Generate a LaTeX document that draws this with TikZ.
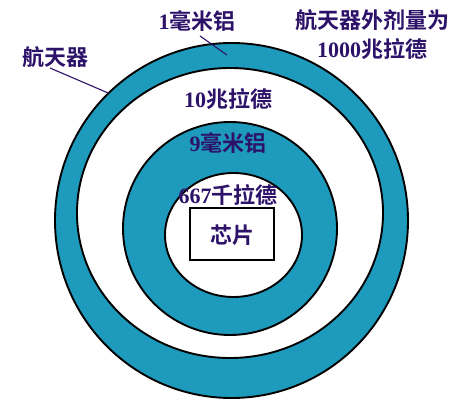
\documentclass[tikz,border=0pt]{standalone}
\usepackage{fontspec}
\newfontfamily\cjk{Noto Sans CJK SC}[BoldFont={* Bold}]
\newfontfamily\lat{Liberation Serif}
\usetikzlibrary{shapes.geometric}
\definecolor{ringteal}{RGB}{30,155,188}
\definecolor{txt}{RGB}{45,18,105}
\begin{document}
\begin{tikzpicture}[x=1pt,y=-1pt,
  ringshape/.style={ellipse,draw=black,line width=1.9pt,inner sep=0pt,outer sep=0pt},
  lbl/.style={inner sep=0pt,text=txt,font=\fontsize{22}{29}\selectfont\cjk\bfseries,align=center},
  leader/.style={draw=txt,line width=1.1pt}]
\useasboundingbox[fill=white] (0,0) rectangle (463,404);
% rings
\node[ringshape,fill=ringteal,minimum width=353pt,minimum height=355pt] (outer) at (231.5,220.5) {};
\node[ringshape,fill=white,minimum width=306pt,minimum height=290pt] (gap) at (230,213) {};
\node[ringshape,fill=ringteal,minimum width=214pt,minimum height=213pt] (shield) at (230,228.5) {};
\node[ringshape,fill=white,minimum width=137pt,minimum height=124pt] (core) at (233.5,235) {};
% chip
\node[draw=black,line width=1.9pt,fill=white,minimum width=84pt,minimum height=52pt,inner sep=0pt] (chip) at (232,234) {};
\node[lbl] (chiptxt) at (232,235) {芯片};
% labels
\node[lbl] (alu1) at (197,21) {{\lat\bfseries 1}毫米铝};
\node[lbl] (dose) at (372,35) {航天器外剂量为\\{\lat\bfseries 1000}兆拉德};
\node[lbl] (craft) at (56,57) {航天器};
\node[lbl] (d10) at (228,99) {{\lat\bfseries 10}兆拉德};
\node[lbl] (alu9) at (228,143) {{\lat\bfseries 9}毫米铝};
\node[lbl] (d667) at (228,195) {{\lat\bfseries 667}千拉德};
% leaders
\coordinate (craftend) at (outer.134);
\coordinate (alustart) at (200,36);
\coordinate (aluend) at (227,55);
\draw[leader] (50,68) -- (craftend);
\draw[leader] (alustart) -- (aluend);
\end{tikzpicture}
\end{document}
